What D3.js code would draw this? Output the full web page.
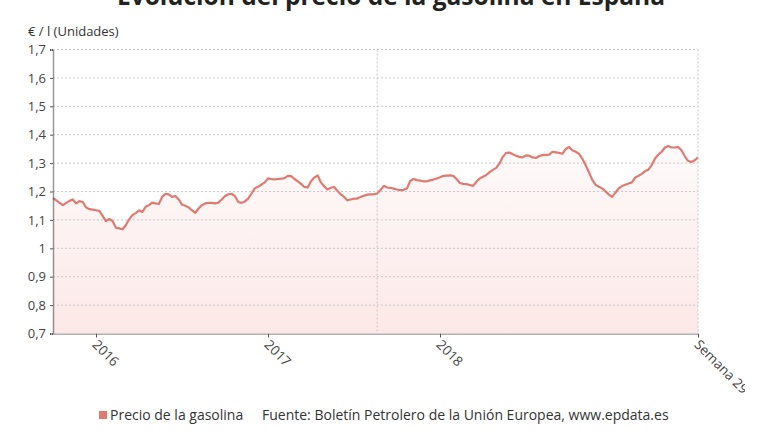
<!DOCTYPE html>
<html><head><meta charset="utf-8">
<script src="https://cdn.jsdelivr.net/npm/d3@7"></script>
<style>body{margin:0;background:#fff}svg{display:block}text{font-family:"Open Sans",sans-serif}</style>
</head><body><svg id="c" width="780" height="440"></svg>
<script>
const title = "Evolución del precio de la gasolina en España";
const unitLabel = "€ / l (Unidades)";
const seriesName = "Precio de la gasolina";
const source = "Fuente: Boletín Petrolero de la Unión Europea, www.epdata.es";
// week index since first observation
const weeks = [0,1,2,3,4,5,6,7,8,9,10,11,12,13,14,15,16,17,18,19,20,21,22,23,24,25,26,27,28,29,30,31,32,33,34,35,36,37,38,39,40,41,42,43,44,45,46,47,48,49,50,51,52,53,54,55,56,57,58,59,60,61,62,63,64,65,66,67,68,69,70,71,72,73,74,75,76,77,78,79,80,81,82,83,84,85,86,87,88,89,90,91,92,93,94,95,96,97,98,99,100,101,102,103,104,105,106,107,108,109,110,111,112,113,114,115,116,117,118,119,120,121,122,123,124,125,126,127,128,129,130,131,132,133,134,135,136,137,138,139,140,141,142,143,144,145,146,147,148,149,150,151,152,153,154,155,156,157,158,159,160,161,162,163,164,165,166,167,168,169,170,171,172,173,174,175,176,177,178,179,180,181,182,183,184,185,186,187,188,189,190,191,192,193,194,195];
const prices = [1.177,1.169,1.160,1.152,1.160,1.167,1.172,1.158,1.166,1.163,1.144,1.138,1.136,1.134,1.132,1.114,1.096,1.103,1.096,1.073,1.070,1.067,1.081,1.102,1.117,1.124,1.134,1.128,1.146,1.152,1.161,1.158,1.156,1.181,1.192,1.190,1.181,1.184,1.172,1.154,1.150,1.144,1.134,1.125,1.140,1.152,1.158,1.160,1.160,1.158,1.161,1.172,1.184,1.190,1.192,1.184,1.163,1.160,1.165,1.175,1.193,1.211,1.217,1.224,1.232,1.246,1.244,1.243,1.244,1.245,1.247,1.255,1.254,1.244,1.236,1.227,1.216,1.214,1.236,1.249,1.257,1.232,1.218,1.207,1.213,1.216,1.202,1.190,1.181,1.169,1.172,1.175,1.175,1.181,1.185,1.189,1.190,1.191,1.193,1.205,1.220,1.214,1.213,1.210,1.207,1.205,1.206,1.211,1.237,1.244,1.240,1.238,1.236,1.236,1.239,1.242,1.246,1.250,1.255,1.256,1.257,1.255,1.244,1.230,1.227,1.226,1.223,1.220,1.234,1.246,1.252,1.258,1.268,1.276,1.283,1.299,1.322,1.336,1.337,1.331,1.326,1.322,1.320,1.327,1.326,1.320,1.318,1.325,1.328,1.329,1.330,1.340,1.338,1.336,1.333,1.349,1.357,1.345,1.340,1.333,1.316,1.293,1.269,1.242,1.224,1.217,1.211,1.201,1.190,1.181,1.195,1.211,1.219,1.224,1.228,1.232,1.249,1.255,1.262,1.272,1.277,1.293,1.316,1.330,1.340,1.355,1.360,1.355,1.355,1.357,1.345,1.324,1.308,1.304,1.310,1.320];
const tickWeeks = [13, 65, 117, 195];
const tickLabels = ["2016", "2017", "2018", "Semana 29"];
const gridWeeks = [98, 195];
const yTicks = [0.7,0.8,0.9,1.0,1.1,1.2,1.3,1.4,1.5,1.6,1.7];

const svg = d3.select("#c");
const m = {l:53, r:698, t:49.5, b:333.5};
const x = d3.scaleLinear().domain([0,195]).range([m.l, m.r]);
const y = d3.scaleLinear().domain([0.7,1.7]).range([m.b, m.t]);
const data = weeks.map((w,i)=>({w, v:prices[i]}));
const lineColor = "#e07a70";

const defs = svg.append("defs");
const g = defs.append("linearGradient").attr("id","fill").attr("x1",0).attr("y1",0).attr("x2",0).attr("y2",1);
g.append("stop").attr("offset","0%").attr("stop-color","#fefafa");
g.append("stop").attr("offset","100%").attr("stop-color","#fce8e7");
defs.append("clipPath").attr("id","clipAll").append("rect").attr("x",0).attr("y",0).attr("width",745).attr("height",440);

// title (partly cut at top)
svg.append("text").attr("x",391).attr("y",5).attr("text-anchor","middle")
  .attr("font-size",24.5).attr("font-weight","bold").attr("fill","#222").text(title);
svg.append("text").attr("x",28).attr("y",36).attr("font-size",13).attr("fill","#333").text(unitLabel);

// area
svg.append("path").datum(data).attr("fill","url(#fill)")
  .attr("d", d3.area().x(d=>x(d.w)).y0(y(0.7)).y1(d=>y(d.v)));

// horizontal grid
svg.append("g").selectAll("line").data(yTicks.slice(1)).join("line")
  .attr("x1",m.l).attr("x2",m.r).attr("y1",d=>y(d)).attr("y2",d=>y(d))
  .attr("stroke","#c8c8c8").attr("stroke-width",1).attr("stroke-dasharray","2,2");
// vertical grid
svg.append("g").selectAll("line").data(gridWeeks).join("line")
  .attr("x1",d=>x(d)).attr("x2",d=>x(d)).attr("y1",m.t).attr("y2",m.b)
  .attr("stroke","#c8c8c8").attr("stroke-width",1).attr("stroke-dasharray","2,2");

// line
svg.append("path").datum(data).attr("fill","none").attr("stroke",lineColor)
  .attr("stroke-width",2.2).attr("stroke-linejoin","round")
  .attr("d", d3.line().x(d=>x(d.w)).y(d=>y(d.v)));

// y axis
const fmt = v => (Math.round(v*10)/10).toString().replace(".",",");
const ya = svg.append("g").attr("transform",`translate(${m.l},0)`)
  .call(d3.axisLeft(y).tickValues(yTicks).tickFormat(fmt).tickSize(3).tickPadding(4));
ya.select(".domain").attr("stroke","#333").attr("stroke-dasharray","1,1").attr("stroke-width",1.5);
ya.selectAll(".tick line").attr("stroke","#555");
ya.selectAll("text").attr("font-size",13).attr("fill","#444").style("font-family","'Open Sans',sans-serif");

// x axis
const xa = svg.append("g").attr("transform",`translate(0,${m.b})`)
  .call(d3.axisBottom(x).tickValues(tickWeeks).tickFormat((d,i)=>tickLabels[i]).tickSize(4).tickSizeOuter(0));
xa.select(".domain").attr("stroke","#333").attr("stroke-dasharray","1,1").attr("stroke-width",1.5);
xa.selectAll(".tick line").attr("stroke","#555");
xa.selectAll("text").attr("font-size",13.5).attr("fill","#444").style("font-family","'Open Sans',sans-serif")
  .attr("text-anchor","start").attr("dy",0).attr("y",0)
  .attr("transform","translate(-5,12) rotate(45)");
xa.attr("clip-path","url(#clipAll)");

// legend
svg.append("rect").attr("x",99).attr("y",411).attr("width",8).attr("height",8).attr("fill",lineColor);
svg.append("text").attr("x",110).attr("y",420).attr("font-size",14).attr("fill","#333").text(seriesName);
svg.append("text").attr("x",262).attr("y",420).attr("font-size",14).attr("fill","#333").text(source);
</script></body></html>
